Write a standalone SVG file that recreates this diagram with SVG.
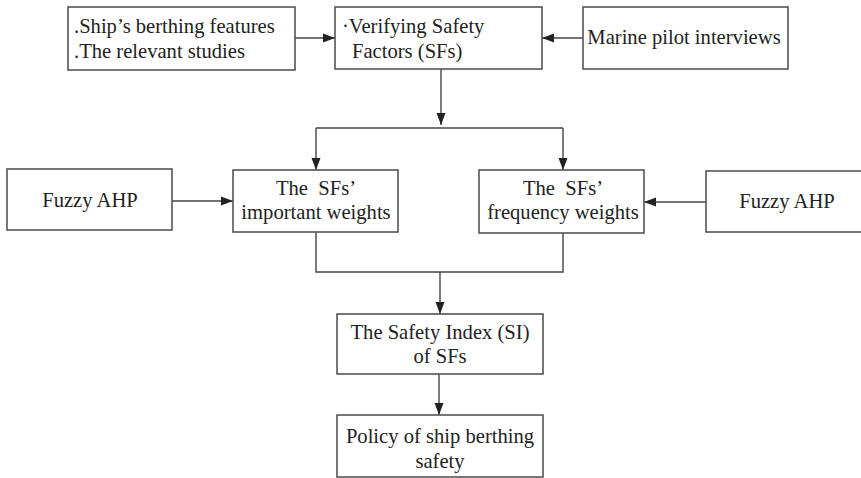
<svg xmlns="http://www.w3.org/2000/svg" width="861" height="478" viewBox="0 0 861 478">
<defs>
<marker id="ah" markerWidth="12" markerHeight="10" refX="12" refY="5" orient="auto" markerUnits="userSpaceOnUse">
<path d="M0,0.5 L12,5 L0,9.5 z" fill="#222"/>
</marker>
<style>
.box{fill:#fff;stroke:#555;stroke-width:1.6}
.t{font-family:"Liberation Serif","Times New Roman",serif;font-size:20.6px;fill:#222}
.c{text-anchor:middle}
.ln{fill:none;stroke:#444;stroke-width:1.4}
</style>
</defs>
<rect width="861" height="478" fill="#fff"/>
<g id="connectors">
<path class="ln" d="M295,38 H335" marker-end="url(#ah)"/>
<path class="ln" d="M583,38 H542" marker-end="url(#ah)"/>
<path class="ln" d="M441,69 V125"/>
<path d="M436.5,113 L441,125 L445.5,113 z" fill="#222"/>
<path class="ln" d="M316,128 H563"/>
<path class="ln" d="M316,128 V170" marker-end="url(#ah)"/>
<path class="ln" d="M563,128 V170" marker-end="url(#ah)"/>
<path class="ln" d="M172,201 H233" marker-end="url(#ah)"/>
<path class="ln" d="M706,202 H644" marker-end="url(#ah)"/>
<path class="ln" d="M316,232 V272 H563 V233"/>
<path class="ln" d="M440,272 V314" marker-end="url(#ah)"/>
<path class="ln" d="M439,374 V415" marker-end="url(#ah)"/>
</g>
<g id="n-sources">
<rect class="box" x="68" y="7" width="227" height="63"/>
<text class="t" x="74" y="33">.Ship’s berthing features</text>
<text class="t" x="74" y="58">.The relevant studies</text>
</g>
<g id="n-verify">
<rect class="box" x="335" y="7" width="207" height="62"/>
<text class="t" x="342" y="33">·Verifying Safety</text>
<text class="t" x="352" y="58">Factors (SFs)</text>
</g>
<g id="n-marine">
<rect class="box" x="583" y="7" width="205" height="62"/>
<text class="t c" x="684" y="44">Marine pilot interviews</text>
</g>
<g id="n-fuzzy-left">
<rect class="box" x="7" y="169" width="165" height="61"/>
<text class="t c" x="90" y="207">Fuzzy AHP</text>
</g>
<g id="n-important">
<rect class="box" x="233" y="170" width="165" height="62"/>
<text class="t c" x="316" y="195" xml:space="preserve">The  SFs’</text>
<text class="t c" x="316" y="219">important weights</text>
</g>
<g id="n-frequency">
<rect class="box" x="479" y="170" width="165" height="63"/>
<text class="t c" x="563" y="195" xml:space="preserve">The  SFs’</text>
<text class="t c" x="563" y="219">frequency weights</text>
</g>
<g id="n-fuzzy-right">
<rect class="box" x="706" y="171" width="170" height="61"/>
<text class="t c" x="787" y="208">Fuzzy AHP</text>
</g>
<g id="n-si">
<rect class="box" x="337" y="314" width="206" height="60"/>
<text class="t c" x="440" y="339">The Safety Index (SI)</text>
<text class="t c" x="440" y="363">of SFs</text>
</g>
<g id="n-policy">
<rect class="box" x="337" y="415" width="206" height="62"/>
<text class="t c" x="440" y="443">Policy of ship berthing</text>
<text class="t c" x="440" y="468">safety</text>
</g>
</svg>
